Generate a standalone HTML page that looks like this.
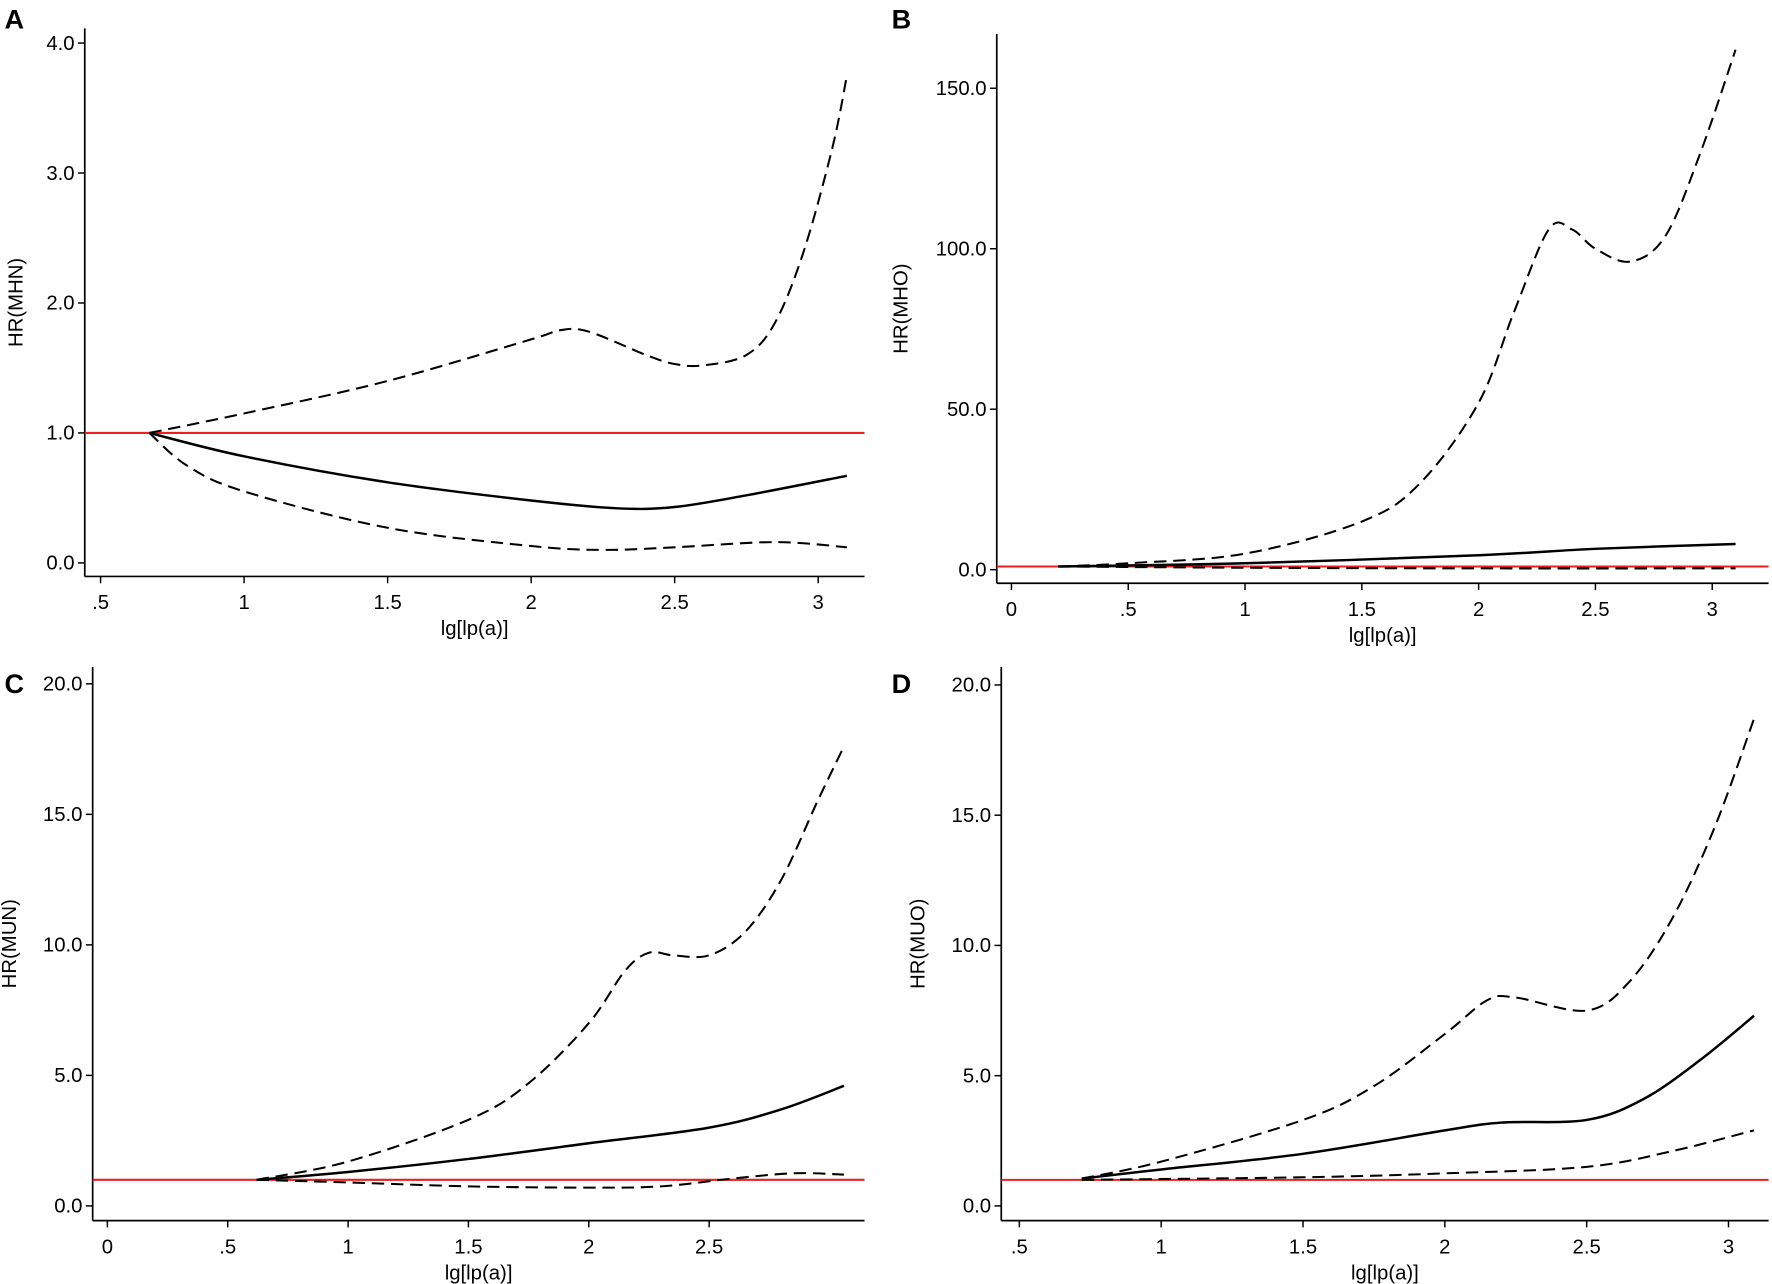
<!DOCTYPE html>
<html><head><meta charset="utf-8"><style>
html,body{margin:0;padding:0;background:#fff;}
svg{display:block;font-family:"Liberation Sans",sans-serif;}
</style></head><body>
<svg id="fig" width="1772" height="1284" viewBox="0 0 1568 1136" xmlns="http://www.w3.org/2000/svg"></svg>
<script>
// ---- data ----
const aX=[0.67,1.0,1.5,2.0,2.1,2.2,2.4,2.5,2.6,2.75,2.85,2.95,3.05,3.1];
const aUp=[1.0,1.15,1.4,1.72,1.79,1.78,1.6,1.53,1.52,1.6,1.85,2.4,3.2,3.75];
const aMidX=[0.67,1.0,1.5,2.0,2.3,2.5,2.75,3.1];
const aMid=[1,0.82,0.62,0.48,0.42,0.43,0.52,0.67];
const aLoX=[0.67,0.8,1.0,1.5,2.0,2.25,2.5,2.85,3.1];
const aLo=[1,0.75,0.55,0.27,0.13,0.1,0.12,0.16,0.12];
const bX=[0.2,0.5,1.0,1.5,1.75,2.0,2.15,2.3,2.4,2.5,2.65,2.8,2.95,3.1];
const bUp=[1,2,5,15,27,52,80,106,106,100,96,104,130,162];
const bMidX=[0.2,1,2,2.5,3.1];
const bMid=[1,2,4.5,6.5,8];
const bLoX=[0.2,1,2,3.1];
const bLo=[1,0.6,0.4,0.4];
const cX=[0.62,1.0,1.5,1.75,2.0,2.15,2.25,2.35,2.5,2.65,2.8,2.95,3.06];
const cUp=[1,1.7,3.3,4.7,7.0,9.0,9.7,9.6,9.6,10.5,12.5,15.5,17.6];
const cMidX=[0.62,1,1.5,2.0,2.5,2.8,3.06];
const cMid=[1,1.3,1.8,2.4,3.0,3.7,4.6];
const cLoX=[0.62,1,1.5,2.0,2.3,2.6,2.85,3.06];
const cLo=[1,0.9,0.75,0.7,0.75,1.05,1.25,1.2];
const dX=[0.72,1,1.5,1.75,2.0,2.15,2.25,2.5,2.65,2.8,2.95,3.09];
const dUp=[1.05,1.7,3.3,4.6,6.6,7.9,8.0,7.5,8.6,11,14.5,18.7];
const dMidX=[0.72,1,1.5,2.0,2.2,2.5,2.7,2.9,3.09];
const dMid=[1.05,1.4,2.0,2.9,3.2,3.3,4.1,5.6,7.3];
const dLoX=[0.72,1.5,2.0,2.5,2.8,3.09];
const dLo=[1,1.1,1.25,1.5,2.1,2.9];
const aYTicks=[0,1,2,3,4], aYLabels=["0.0","1.0","2.0","3.0","4.0"];
const aXTicks=[0.5,1,1.5,2,2.5,3], aXLabels=[".5","1","1.5","2","2.5","3"];
const bYTicks=[0,50,100,150], bYLabels=["0.0","50.0","100.0","150.0"];
const bXTicks=[0,0.5,1,1.5,2,2.5,3], bXLabels=["0",".5","1","1.5","2","2.5","3"];
const cYTicks=[0,5,10,15,20], cYLabels=["0.0","5.0","10.0","15.0","20.0"];
const cXTicks=[0,0.5,1,1.5,2,2.5], cXLabels=["0",".5","1","1.5","2","2.5"];
const dXTicks=[0.5,1,1.5,2,2.5,3], dXLabels=[".5","1","1.5","2","2.5","3"];

const NS="http://www.w3.org/2000/svg";
const svg=document.getElementById('fig');
function mk(tag,attrs,parent){const e=document.createElementNS(NS,tag);for(const k in attrs)e.setAttribute(k,attrs[k]);(parent||svg).appendChild(e);return e;}
function smooth(pts){let d="M"+pts[0][0]+","+pts[0][1];for(let i=0;i<pts.length-1;i++){const p0=pts[Math.max(0,i-1)],p1=pts[i],p2=pts[i+1],p3=pts[Math.min(pts.length-1,i+2)];const c1=[p1[0]+(p2[0]-p0[0])/6,p1[1]+(p2[1]-p0[1])/6],c2=[p2[0]-(p3[0]-p1[0])/6,p2[1]-(p3[1]-p1[1])/6];d+=" C"+c1+" "+c2+" "+p2;}return d;}

function panel(o){
  const g=mk('g',{});
  
  
  const sx=v=>o.x0px+(v-o.x0v)*o.xs, sy=v=>o.y0px-(v)*o.ys;
  const lt=mk('text',{x:o.lx,y:o.ly,'font-size':24,'font-weight':'bold'},g);lt.textContent=o.letter;
  
  const ya=mk('line',{x1:o.ax,y1:o.top,x2:o.ax,y2:o.axY,stroke:'#000','stroke-width':1.5},g);
  
  const xa=mk('line',{x1:o.ax,y1:o.axY,x2:o.right,y2:o.axY,stroke:'#000','stroke-width':1.5},g);
  
  o.yT.forEach((v,i)=>{const y=sy(v);mk('line',{x1:o.ax-6,y1:y,x2:o.ax,y2:y,stroke:'#000','stroke-width':1.3},g);
    const t=mk('text',{x:o.ax-9,y:y+6,'font-size':18,'text-anchor':'end'},g);t.textContent=o.yL[i];
    });
  o.xT.forEach((v,i)=>{const x=sx(v);mk('line',{x1:x,y1:o.axY,x2:x,y2:o.axY+6,stroke:'#000','stroke-width':1.3},g);
    const t=mk('text',{x:x,y:o.axY+29,'font-size':18,'text-anchor':'middle'},g);t.textContent=o.xL[i];
    });
  const xt=mk('text',{x:(o.ax+o.right)/2,y:o.axY+52,'font-size':18,'text-anchor':'middle'},g);xt.textContent='lg[lp(a)]';
  
  const ytx=o.ytx, yc=(o.top+o.axY)/2;
  const yt=mk('text',{x:ytx,y:yc,'font-size':18,'text-anchor':'middle',transform:`rotate(-90 ${ytx} ${yc})`},g);yt.textContent=o.ytitle;
  
  const ref=mk('line',{x1:o.ax,y1:sy(1),x2:o.right,y2:sy(1),stroke:'#e8201f','stroke-width':1.8},g);
  
  const series=[[o.upX,o.up,'upper-ci',true],[o.midX,o.mid,'hr-curve',false],[o.loX,o.lo,'lower-ci',true]];
  series.forEach(s=>{const pts=s[0].map((x,i)=>[sx(x),sy(s[1][i])]);
    const p=mk('path',{d:smooth(pts),fill:'none',stroke:'#000','stroke-width':s[3]?1.8:2.2},g);
    if(s[3])p.setAttribute('stroke-dasharray','11 6');
    });
}
panel({letter:'A',lx:4,ly:25,ax:75,top:25,axY:510,right:765,x0v:0.5,x0px:89,xs:254,y0px:498,ys:115,
  yT:aYTicks,yL:aYLabels,xT:aXTicks,xL:aXLabels,ytx:20,ytitle:'HR(MHN)',
  upX:aX,up:aUp,midX:aMidX,mid:aMid,loX:aLoX,lo:aLo});
panel({letter:'B',lx:789,ly:25,ax:882,top:30,axY:516,right:1565,x0v:0,x0px:895,xs:206.7,y0px:504,ys:2.84,
  yT:bYTicks,yL:bYLabels,xT:bXTicks,xL:bXLabels,ytx:803,ytitle:'HR(MHO)',
  upX:bX,up:bUp,midX:bMidX,mid:bMid,loX:bLoX,lo:bLo});
panel({letter:'C',lx:4,ly:613,ax:82,top:590,axY:1080,right:765,x0v:0,x0px:95,xs:213,y0px:1067,ys:23.1,
  yT:cYTicks,yL:cYLabels,xT:cXTicks,xL:cXLabels,ytx:14,ytitle:'HR(MUN)',
  upX:cX,up:cUp,midX:cMidX,mid:cMid,loX:cLoX,lo:cLo});
panel({letter:'D',lx:789,ly:613,ax:886,top:590,axY:1080,right:1565,x0v:0.5,x0px:902,xs:251,y0px:1067,ys:23.05,
  yT:cYTicks,yL:cYLabels,xT:dXTicks,xL:dXLabels,ytx:818,ytitle:'HR(MUO)',
  upX:dX,up:dUp,midX:dMidX,mid:dMid,loX:dLoX,lo:dLo});
</script>
</body></html>
